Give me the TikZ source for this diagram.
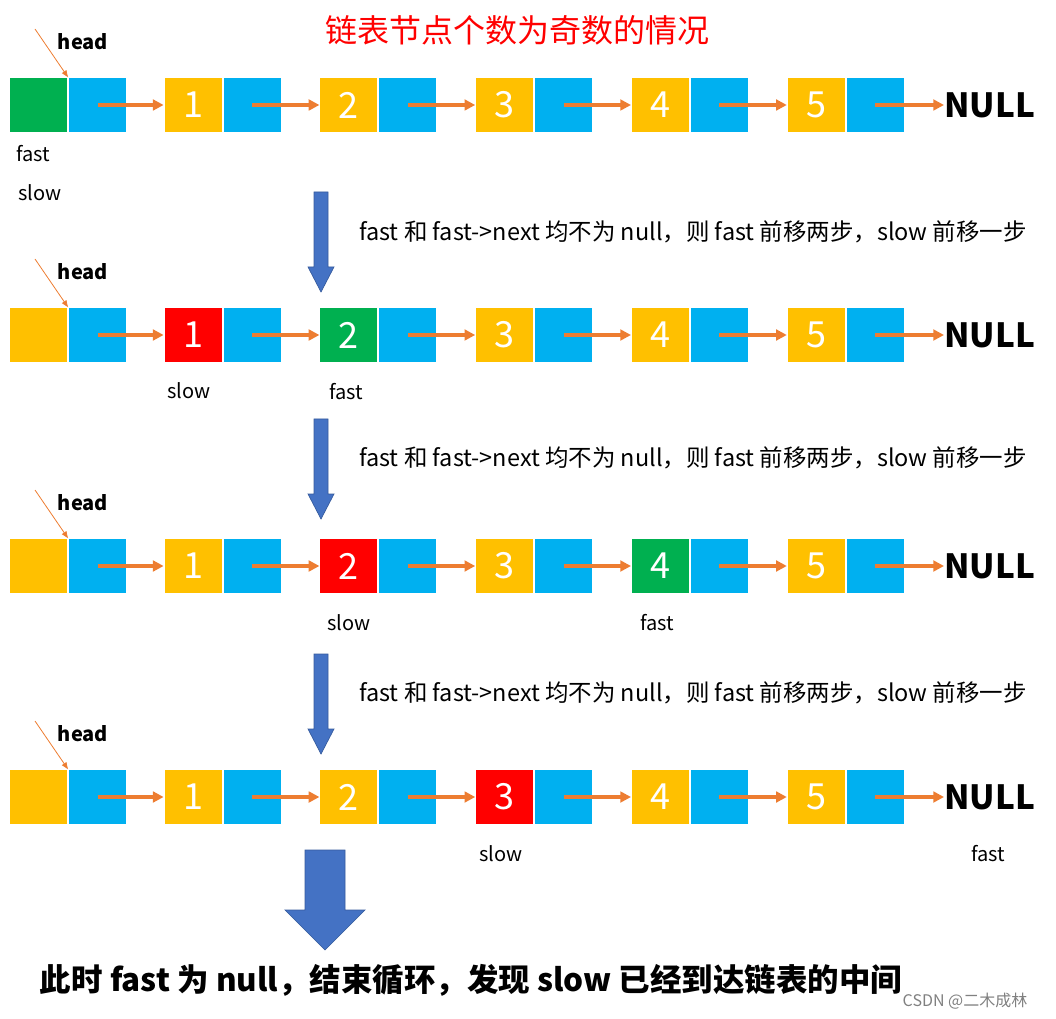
\documentclass[tikz,border=0pt]{standalone}
\usepackage{fontspec}
\setmainfont{Noto Sans CJK SC}
\usetikzlibrary{arrows.meta}
\definecolor{cG}{HTML}{00B050}
\definecolor{cB}{HTML}{00B0F0}
\definecolor{cY}{HTML}{FFC000}
\definecolor{cR}{HTML}{FF0000}
\definecolor{cO}{HTML}{ED7D31}
\definecolor{cA}{HTML}{4472C4}
\begin{document}
\begin{tikzpicture}[x=0.75pt,y=-0.75pt,
  box/.style={minimum width=43.5pt,minimum height=41.25pt,inner sep=0pt,draw=white,line width=0.6pt,font=\fontsize{27}{27}\selectfont,text=white},
  nxt/.style={draw=cO,line width=2.4pt,-{Triangle[length=8pt,width=8pt]}},
  lbl/.style={font=\fontsize{15}{15}\selectfont},
  captxt/.style={font=\fontsize{17.6}{17.6}\selectfont},
  blk/.style={fill=cA,draw=cA!80!black,line width=0.5pt}]
\useasboundingbox (0,0) rectangle (1056,1019);
\node[font=\fontsize{24}{24}\selectfont,text=cR] (title) at (517,30) {链表节点个数为奇数的情况};
\foreach \r/\y/\ch/\ca/\cb/\cc/\cd/\ce in {1/105/cG/cY/cY/cY/cY/cY,2/335/cY/cR/cG/cY/cY/cY,3/566/cY/cY/cR/cY/cG/cY,4/797/cY/cY/cY/cR/cY/cY}{
  \node[box,fill=\ch] (h\r) at (38.5,\y) {};
  \node[box,fill=cB] (p\r-0) at (97.5,\y) {};
  \foreach \i/\c in {1/\ca,2/\cb,3/\cc,4/\cd,5/\ce}{
    \node[box,fill=\c] (n\r-\i) at ({193+155.8*(\i-1)},\y) {\i};
    \node[box,fill=cB] (p\r-\i) at ({252+155.8*(\i-1)},\y) {};
  }
  \node[font=\bfseries\fontsize{25}{25}\selectfont,anchor=west,inner sep=0pt] (null\r) at (944,\y) {NULL};
  \foreach \i [evaluate=\i as \j using int(\i+1)] in {0,...,4}{
    \draw[nxt] (p\r-\i.center) -- (n\r-\j.west);
  }
  \draw[nxt] (p\r-5.center) -- (null\r.west);
  \node[font=\bfseries\fontsize{15}{15}\selectfont] (head\r) at (83,{\y-63}) {head};
  \coordinate (hs\r) at (35,{\y-76});
  \draw[draw=cO,line width=0.6pt,-{Triangle[length=5pt,width=4pt]}] (hs\r) -- (h\r.north east);
}
\node[lbl] (f1) at (33,154) {fast};
\node[lbl] (s1) at (40,193) {slow};
\node[lbl] (s2) at (189,391) {slow};
\node[lbl] (f2) at (346,392) {fast};
\node[lbl] (s3) at (349,623) {slow};
\node[lbl] (f3) at (657,623) {fast};
\node[lbl] (s4) at (501,854) {slow};
\node[lbl] (f4) at (988,854) {fast};
\foreach \t/\yc in {192/232,419/458,654/693}{
  \draw[blk] (314,\t) -- (328,\t) -- (328,{\t+75}) -- (334,{\t+75}) -- (321,{\t+100}) -- (308,{\t+75}) -- (314,{\t+75}) -- cycle;
  \node[captxt] at (693,\yc) {fast 和 fast->next 均不为 null，则 fast 前移两步，slow 前移一步};
}
\draw[blk] (305,850) -- (345,850) -- (345,910) -- (365,910) -- (325,950) -- (285,910) -- (305,910) -- cycle;
\node[font=\bfseries\fontsize{23.6}{23.6}\selectfont] (concl) at (471,980) {此时 fast 为 null，结束循环，发现 slow 已经到达链表的中间};
\node[font=\fontsize{12}{12}\selectfont,text=gray] (wm) at (965,1001) {CSDN @二木成林};
\end{tikzpicture}
\end{document}
